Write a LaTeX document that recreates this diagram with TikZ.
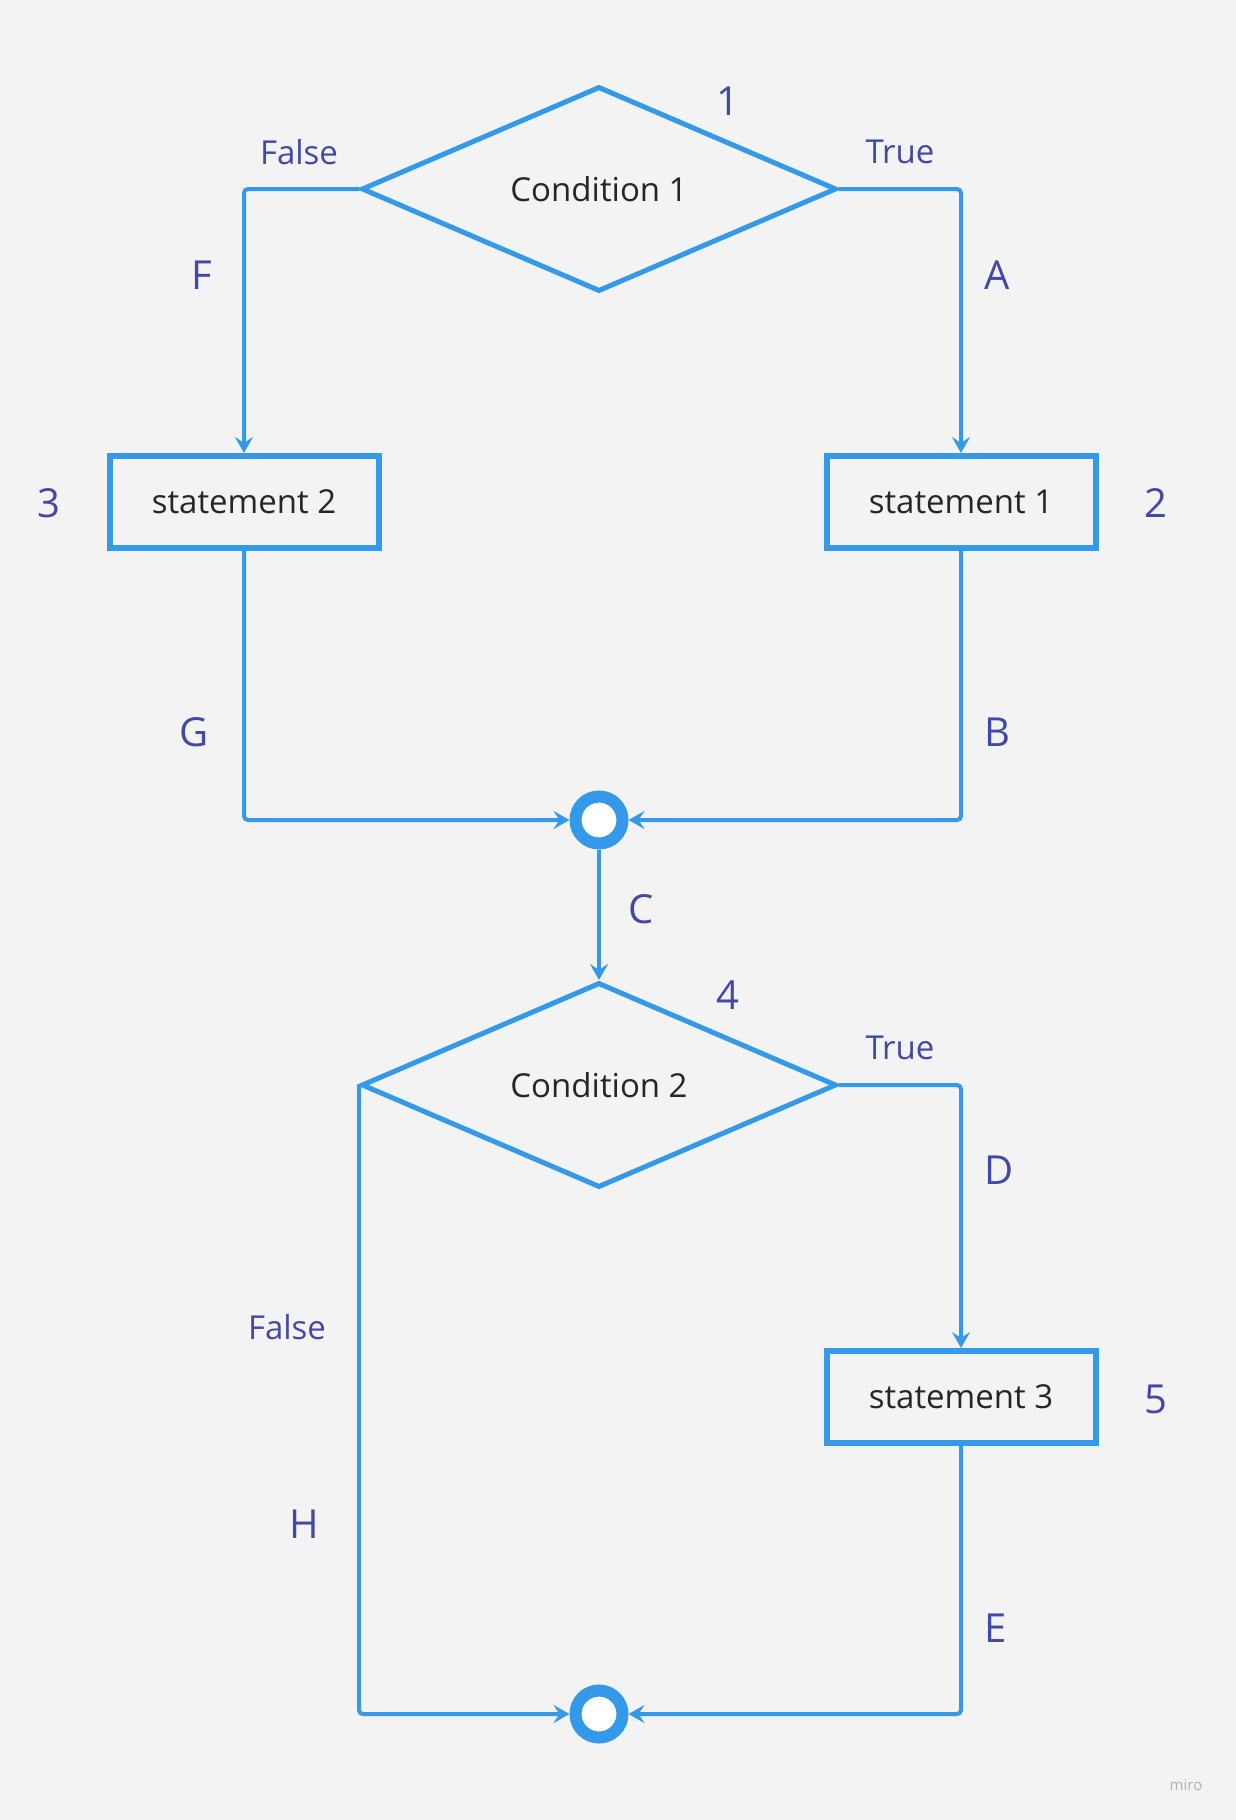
\documentclass[tikz,border=0pt]{standalone}
\usepackage{fontspec}
\setmainfont{Open Sans}
\usetikzlibrary{shapes.geometric,arrows.meta}
\definecolor{flowblue}{HTML}{3399E8}
\definecolor{lblblue}{HTML}{4149A8}
\definecolor{bggray}{HTML}{F3F3F3}
\begin{document}
\begin{tikzpicture}[x=1pt,y=-1pt,
  every node/.style={font=\fontsize{33}{40}\selectfont,text=black!85},
  cond/.style={draw=flowblue,line width=5pt,diamond,aspect=2.3,minimum width=475pt,minimum height=205pt,inner sep=0pt},
  stmt/.style={draw=flowblue,line width=6pt,rectangle,minimum width=269pt,minimum height=92pt},
  joint/.style={draw=flowblue,line width=12pt,circle,fill=white,minimum size=47pt,inner sep=0pt},
  flow/.style={draw=flowblue,line width=4pt,rounded corners=4pt,-{Stealth[length=16pt,width=18pt,inset=6pt]}},
  lbl/.style={font=\fontsize{40}{48}\selectfont,text=lblblue},
  tf/.style={font=\fontsize{33}{40}\selectfont,text=lblblue}]
\useasboundingbox (0,0) rectangle (1235,1820);
\fill[bggray] (-2,-2) rectangle (1237,1822);
\node[cond] (c1) at (599,189) {Condition 1};
\node[stmt] (s2) at (244,502) {statement 2};
\node[stmt] (s1) at (961,502) {statement 1};
\node[joint] (j1) at (599,820) {};
\node[cond] (c2) at (599,1085) {Condition 2};
\node[stmt] (s3) at (961,1397) {statement 3};
\node[joint] (j2) at (599,1714) {};
\draw[flow] (c1.west) -| (s2.north);
\draw[flow] (c1.east) -| (s1.north);
\draw[flow] (s2.south) |- (j1.west);
\draw[flow] (s1.south) |- (j1.east);
\draw[flow] (j1.south) -- (c2.north);
\draw[flow] (c2.east) -| (s3.north);
\draw[flow] (c2.west) |- (j2.west);
\draw[flow] (s3.south) |- (j2.east);
\node[lbl] (n1) at (728,101) {1};
\node[lbl] (n2) at (1156,503) {2};
\node[lbl] (n3) at (49,503) {3};
\node[lbl] (n4) at (728,995) {4};
\node[lbl] (n5) at (1156,1399) {5};
\node[tf] (f1) at (299,152) {False};
\node[tf] (t1) at (900,152) {True};
\node[tf] (t2) at (900,1048) {True};
\node[tf] (f2) at (287,1327) {False};
\node[lbl] (la) at (997,275) {A};
\node[lbl] (lb) at (997,732) {B};
\node[lbl] (lc) at (641,909) {C};
\node[lbl] (ld) at (999,1170) {D};
\node[lbl] (le) at (996,1628) {E};
\node[lbl] (lf) at (202,275) {F};
\node[lbl] (lg) at (194,732) {G};
\node[lbl] (lh) at (304,1524) {H};
\node[font=\fontsize{15}{18}\selectfont,text=black!30] (miro) at (1186,1785) {miro};
\end{tikzpicture}
\end{document}
